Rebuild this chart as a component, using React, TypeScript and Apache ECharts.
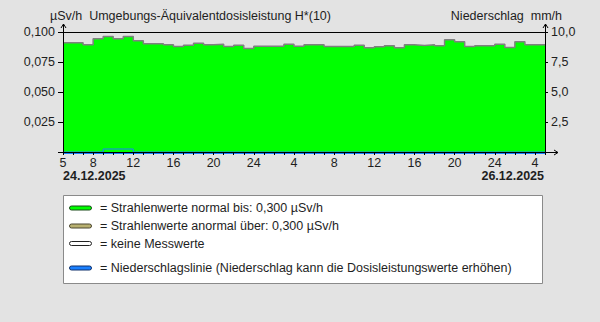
import React, { useEffect, useRef } from "react";
import * as echarts from "echarts";

// Hourly dose rate values (µSv/h), starting 24.12.2025 05:00, 48 hours
const doseValues = [
  0.091, 0.091, 0.0893, 0.0943, 0.0963, 0.0943, 0.0963, 0.0927, 0.0902, 0.0902,
  0.0893, 0.0879, 0.089, 0.0907, 0.0893, 0.0898, 0.0879, 0.089, 0.0863, 0.0882,
  0.0882, 0.0882, 0.0898, 0.0882, 0.0893, 0.0893, 0.0879, 0.0879, 0.0879, 0.089,
  0.0868, 0.0877, 0.0885, 0.0868, 0.0893, 0.0888, 0.0893, 0.0885, 0.0935, 0.0918,
  0.0879, 0.0885, 0.0885, 0.0898, 0.0871, 0.0918, 0.0893, 0.0893,
];

// Hourly precipitation (mm/h)
const precipValues = [
  0, 0, 0, 0, 0.25, 0.25, 0.25, 0, 0, 0,
  0, 0, 0, 0, 0, 0, 0, 0, 0, 0,
  0, 0, 0, 0, 0, 0, 0, 0, 0, 0,
  0, 0, 0, 0, 0, 0, 0, 0, 0, 0,
  0, 0, 0, 0, 0, 0, 0, 0,
];

const xLabelPositions = [0, 3, 7, 11, 15, 19, 23, 27, 31, 35, 39, 43, 47];
const xLabelTexts = ["5", "8", "12", "16", "20", "24", "4", "8", "12", "16", "20", "24", "4"];
const dateLabels = ["24.12.2025", "26.12.2025"];

const leftTitle = "µSv/h  Umgebungs-Äquivalentdosisleistung H*(10)";
const rightTitle = "Niederschlag  mm/h";

const legendItems = [
  { color: "#00ff00", stroke: "#1a4a1a", text: "= Strahlenwerte normal bis: 0,300 µSv/h" },
  { color: "#b8b070", stroke: "#4a4630", text: "= Strahlenwerte anormal über: 0,300 µSv/h" },
  { color: "#ffffff", stroke: "#222222", text: "= keine Messwerte" },
  { color: "#1a80ff", stroke: "#10306a", text: "= Niederschlagslinie (Niederschlag kann die Dosisleistungswerte erhöhen)" },
];

const FONT = "'Liberation Sans', Arial, sans-serif";
const FS = 12.5;
const TEXT = "#1e1e1e";

export default function App() {
  const ref = useRef<HTMLDivElement>(null);

  useEffect(() => {
    if (!ref.current) return;
    const chart = echarts.init(ref.current, undefined, { renderer: "svg" });

    const doseData = doseValues.map((v, i) => [i, v]);
    doseData.push([doseValues.length, doseValues[doseValues.length - 1]]);
    const precipData = precipValues.map((v, i) => [i, v]);
    precipData.push([precipValues.length, precipValues[precipValues.length - 1]]);

    const legendY = [208, 226, 243.5, 268];

    const graphic: any[] = [
      {
        type: "text",
        x: 50,
        y: 16,
        style: { text: leftTitle, font: `${FS}px ${FONT}`, fill: TEXT, verticalAlign: "middle" },
      },
      {
        type: "text",
        x: 562,
        y: 16,
        style: { text: rightTitle, font: `${FS}px ${FONT}`, fill: TEXT, align: "right", verticalAlign: "middle" },
      },
      {
        type: "text",
        x: 63,
        y: 176,
        style: { text: dateLabels[0], font: `bold ${FS}px ${FONT}`, fill: TEXT, verticalAlign: "middle" },
      },
      {
        type: "text",
        x: 544,
        y: 176,
        style: { text: dateLabels[1], font: `bold ${FS}px ${FONT}`, fill: TEXT, align: "right", verticalAlign: "middle" },
      },
      // axis arrows
      { type: "polyline", z: 20, shape: { points: [[63.5, 32], [63.5, 24]] }, style: { stroke: "#000", lineWidth: 1, fill: null } },
      { type: "polyline", z: 20, shape: { points: [[61, 28], [63.5, 24], [66, 28]] }, style: { stroke: "#000", lineWidth: 1, fill: null } },
      { type: "polyline", z: 20, shape: { points: [[545.5, 32], [545.5, 24]] }, style: { stroke: "#000", lineWidth: 1, fill: null } },
      { type: "polyline", z: 20, shape: { points: [[543, 28], [545.5, 24], [548, 28]] }, style: { stroke: "#000", lineWidth: 1, fill: null } },
      { type: "polyline", z: 20, shape: { points: [[545, 152.5], [558, 152.5]] }, style: { stroke: "#000", lineWidth: 1, fill: null } },
      { type: "polyline", z: 20, shape: { points: [[554, 150], [558, 152.5], [554, 155]] }, style: { stroke: "#000", lineWidth: 1, fill: null } },
      // thin blue precipitation baseline just under the x axis
      { type: "polyline", z: 1, shape: { points: [[63, 153.5], [545, 153.5]] }, style: { stroke: "#1a80ff", lineWidth: 1, fill: null } },
      // legend box
      {
        type: "rect",
        shape: { x: 63.5, y: 195.5, width: 479, height: 88 },
        style: { fill: "#ffffff", stroke: "#8a8a8a", lineWidth: 1 },
      },
    ];

    legendItems.forEach((it, i) => {
      graphic.push({
        type: "rect",
        z: 10,
        shape: { x: 69.5, y: legendY[i] - 2, width: 22, height: 4, r: 2 },
        style: { fill: it.color, stroke: it.stroke, lineWidth: 1 },
      });
      graphic.push({
        type: "text",
        z: 10,
        x: 100,
        y: legendY[i],
        style: { text: it.text, font: `${FS}px ${FONT}`, fill: TEXT, verticalAlign: "middle" },
      });
    });

    const option: any = {
      animation: false,
      backgroundColor: "#e3e3e3",
      textStyle: { fontFamily: FONT },
      grid: { left: 63, right: 55, top: 32, bottom: 170, containLabel: false },
      xAxis: [
        {
          type: "value",
          min: 0,
          max: 48,
          interval: 1,
          position: "bottom",
          z: 5,
          axisLine: { show: true, onZero: false, lineStyle: { color: "#000", width: 1 } },
          axisTick: { show: true, length: 3, lineStyle: { color: "#000" } },
          axisLabel: {
            color: TEXT,
            fontSize: FS,
            fontFamily: FONT,
            margin: 4,
            formatter: (v: number) => {
              const idx = xLabelPositions.indexOf(Math.round(v));
              return idx >= 0 ? xLabelTexts[idx] : "";
            },
          },
          splitLine: { show: false },
        },
        {
          type: "value",
          min: 0,
          max: 48,
          position: "top",
          z: 5,
          axisLine: { show: true, onZero: false, lineStyle: { color: "#000", width: 1 } },
          axisTick: { show: false },
          axisLabel: { show: false },
          splitLine: { show: false },
        },
      ],
      yAxis: [
        {
          type: "value",
          min: 0,
          max: 0.1,
          interval: 0.025,
          position: "left",
          z: 5,
          axisLine: { show: true, onZero: false, lineStyle: { color: "#000", width: 1 } },
          axisTick: { show: true, length: 5, lineStyle: { color: "#000" } },
          axisLabel: {
            color: TEXT,
            fontSize: FS,
            fontFamily: FONT,
            margin: 8,
            formatter: (v: number) => (v === 0 ? "" : v.toFixed(3).replace(".", ",")),
          },
          splitLine: { show: false },
        },
        {
          type: "value",
          min: 0,
          max: 10,
          interval: 2.5,
          position: "right",
          z: 5,
          axisLine: { show: true, onZero: false, lineStyle: { color: "#000", width: 1 } },
          axisTick: { show: true, length: 3, lineStyle: { color: "#000" } },
          axisLabel: {
            color: TEXT,
            fontSize: FS,
            fontFamily: FONT,
            margin: 6,
            formatter: (v: number) => (v === 0 ? "" : v.toFixed(1).replace(".", ",")),
          },
          splitLine: { show: false },
        },
      ],
      series: [
        {
          type: "line",
          step: "end",
          xAxisIndex: 0,
          yAxisIndex: 0,
          data: doseData,
          symbol: "none",
          lineStyle: { color: "#808080", width: 1.5 },
          areaStyle: { color: "#00ff00", opacity: 1 },
        },
        {
          type: "line",
          step: "end",
          xAxisIndex: 0,
          yAxisIndex: 1,
          data: precipData,
          symbol: "none",
          z: 3,
          lineStyle: { color: "#1a80ff", width: 1 },
        },
      ],
      graphic,
    };

    chart.setOption(option);
    return () => chart.dispose();
  }, []);

  return (
    <div
      ref={ref}
      style={{ position: "fixed", left: 0, top: 0, width: 600, height: 322 }}
    />
  );
}
